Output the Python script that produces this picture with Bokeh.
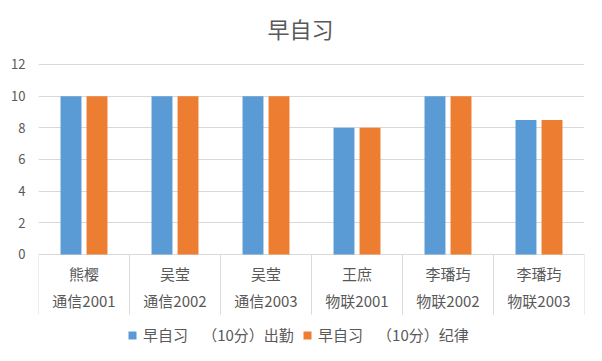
from bokeh.plotting import figure
from bokeh.models import (ColumnDataSource, FactorRange, Range1d, FixedTicker,
                          Legend)
from bokeh.transform import dodge
from bokeh.core.properties import value
from bokeh.embed import file_html
from bokeh.resources import INLINE

# ---- data ----
names = ["熊樱", "吴莹", "吴莹", "王庶", "李璠玙", "李璠玙"]
classes = ["通信2001", "通信2002", "通信2003", "物联2001", "物联2002", "物联2003"]
attendance = [10, 10, 10, 8, 10, 8.5]
discipline = [10, 10, 10, 8, 10, 8.5]
series_names = ["早自习  　（10分）出勤", "早自习  　（10分）纪律"]
title_text = "早自习"
y_ticks = [0, 2, 4, 6, 8, 10, 12]

FONT = "Noto Sans CJK SC"
TXT = "#595959"
GRID = "#D9D9D9"
BLUE = "#5B9BD5"
ORANGE = "#ED7D31"

n = len(classes)
src = ColumnDataSource(dict(cls=classes, name=names, a=attendance, d=discipline,
                            y0=[0] * n, ys=[-3.8] * n,
                            r1=[-1.2] * n, r2=[-2.9] * n))
last = ColumnDataSource(dict(cls=classes[-1:], y0=[0], ys=[-3.8]))
title_src = ColumnDataSource(dict(x=classes[2:3], y=[14.3], t=[title_text]))

p = figure(width=586, height=345, output_backend="svg", toolbar_location=None,
           x_range=FactorRange(factors=classes, range_padding=0),
           y_range=Range1d(-5.75, 16.04), x_axis_location=None,
           min_border_left=38, min_border_right=2, min_border_top=0,
           min_border_bottom=0)
p.outline_line_color = None
p.background_fill_color = "white"
p.border_fill_color = "white"

# y axis / grid
p.yaxis.ticker = FixedTicker(ticks=y_ticks)
p.yaxis.axis_line_color = None
p.yaxis.major_tick_line_color = None
p.yaxis.minor_tick_line_color = None
p.yaxis.major_label_text_color = TXT
p.yaxis.major_label_text_font = FONT
p.yaxis.major_label_text_font_size = "13px"
p.yaxis.major_label_standoff = 7
p.ygrid.ticker = FixedTicker(ticks=y_ticks)
p.ygrid.grid_line_color = GRID
p.xgrid.grid_line_color = None

# title
p.text(x=dodge("x", 0.379, range=p.x_range), y="y", text="t", source=title_src,
       text_align="center", text_baseline="middle", text_font=value(FONT),
       text_font_size="22px", text_color=TXT)

# bars
r1 = p.vbar(x=dodge("cls", -0.143, range=p.x_range), top="a", width=0.23,
            source=src, fill_color=BLUE, line_color=None)
r2 = p.vbar(x=dodge("cls", 0.143, range=p.x_range), top="d", width=0.23,
            source=src, fill_color=ORANGE, line_color=None)

# category separators
p.segment(x0=dodge("cls", -0.5, range=p.x_range), y0="y0",
          x1=dodge("cls", -0.5, range=p.x_range), y1="ys",
          source=src, line_color=GRID, line_width=1)
p.segment(x0=dodge("cls", 0.5, range=p.x_range), y0="y0",
          x1=dodge("cls", 0.5, range=p.x_range), y1="ys",
          source=last, line_color=GRID, line_width=1)

# category labels
p.text(x="cls", y="r1", text="name", source=src, text_align="center",
       text_baseline="middle", text_font=value(FONT), text_font_size="15px",
       text_color=TXT)
p.text(x="cls", y="r2", text="cls", source=src, text_align="center",
       text_baseline="middle", text_font=value(FONT), text_font_size="15px",
       text_color=TXT)

# legend
legend = Legend(items=[(series_names[0], [r1]), (series_names[1], [r2])],
                orientation="horizontal", location=(89, 0),
                glyph_width=10, glyph_height=10, label_standoff=6, spacing=8,
                padding=0, margin=0, label_height=17,
                label_text_font=FONT, label_text_font_size="15px",
                label_text_color=TXT, border_line_color=None,
                background_fill_alpha=0)
p.add_layout(legend)

open("out.html", "w").write(file_html(p, INLINE))
